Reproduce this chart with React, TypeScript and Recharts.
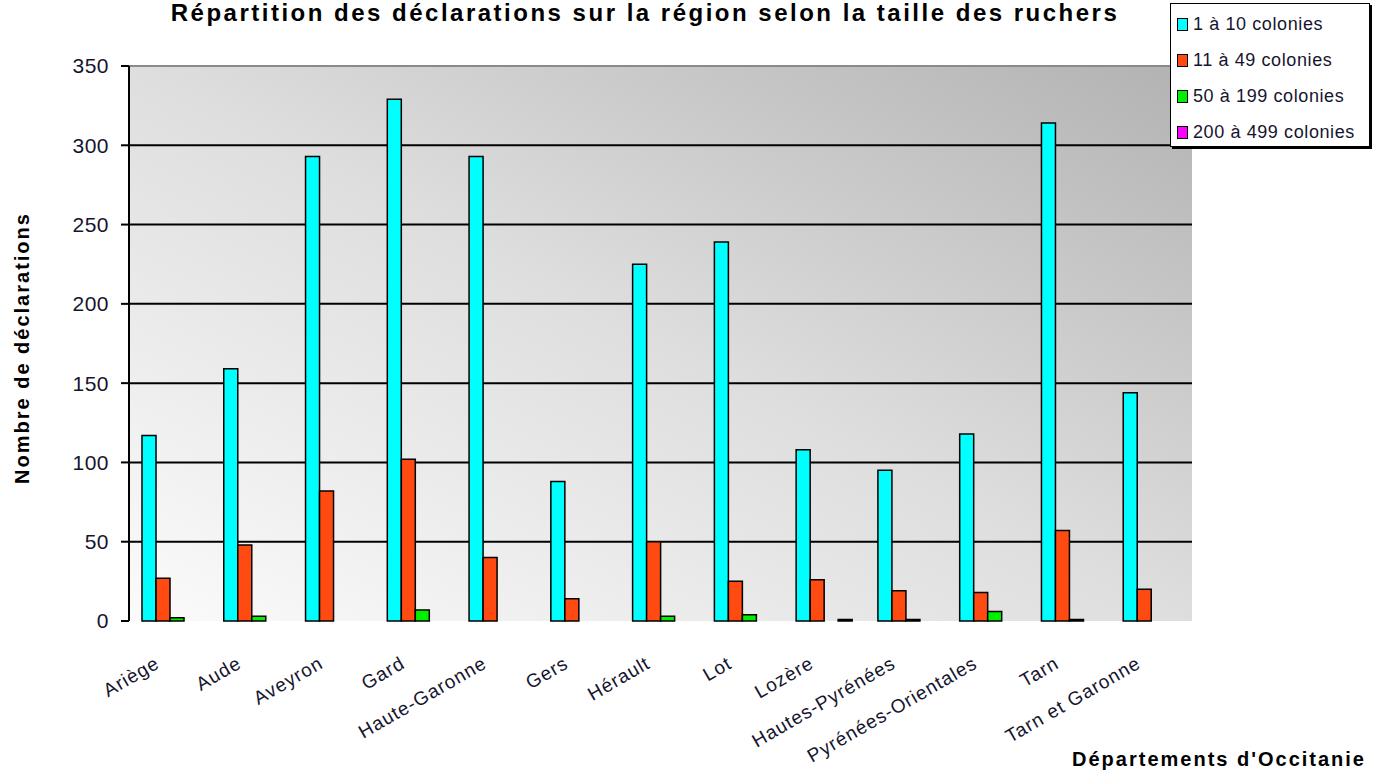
import React from "react";
import {
  BarChart,
  Bar,
  XAxis,
  YAxis,
  CartesianGrid,
  Legend,
  ReferenceLine,
} from "recharts";

const departements = [
  "Ariège",
  "Aude",
  "Aveyron",
  "Gard",
  "Haute-Garonne",
  "Gers",
  "Hérault",
  "Lot",
  "Lozère",
  "Hautes-Pyrénées",
  "Pyrénées-Orientales",
  "Tarn",
  "Tarn et Garonne",
];

const colonies1a10 = [117, 159, 293, 329, 293, 88, 225, 239, 108, 95, 118, 314, 144];
const colonies11a49 = [27, 48, 82, 102, 40, 14, 50, 25, 26, 19, 18, 57, 20];
const colonies50a199 = [2, 3, 0, 7, 0, 0, 3, 4, 0, 1, 6, 1, 0];
const colonies200a499 = [0, 0, 0, 0, 0, 0, 0, 0, 1, 0, 0, 0, 0];

const yTicks = [0, 50, 100, 150, 200, 250, 300, 350];
const gridValues = [50, 100, 150, 200, 250, 300];
const edgeTicks = departements.map((_, i) => i).concat(departements.length);

const series = [
  { key: "c1", name: "1 à 10 colonies", color: "#00FFFF" },
  { key: "c2", name: "11 à 49 colonies", color: "#FF4A12" },
  { key: "c3", name: "50 à 199 colonies", color: "#00F000" },
  { key: "c4", name: "200 à 499 colonies", color: "#FF00FF" },
];

const data = departements.map((name, i) => ({
  name,
  c1: colonies1a10[i],
  c2: colonies11a49[i],
  c3: colonies50a199[i],
  c4: colonies200a499[i],
}));

const FONT = "'Liberation Sans', Arial, sans-serif";
const TEXT = "#15152e";

function DeptTick(props: any) {
  const { x, y, payload } = props;
  return (
    <g transform={`translate(${x - 9},${y + 38}) rotate(-30)`}>
      <text
        textAnchor="end"
        fontSize={19}
        letterSpacing={1}
        fontFamily={FONT}
        fill={TEXT}
      >
        {payload.value}
      </text>
    </g>
  );
}

function LegendBox() {
  return (
    <div
      style={{
        width: 200,
        height: 144,
        boxSizing: "border-box",
        background: "#fff",
        border: "1.5px solid #000",
        boxShadow: "2px 2px 0 #000",
        padding: "2px 0 0 6px",
        fontFamily: FONT,
        fontSize: 18,
        letterSpacing: 0.6,
        color: TEXT,
      }}
    >
      {series.map((s) => (
        <div
          key={s.key}
          style={{ display: "flex", alignItems: "center", height: 36 }}
        >
          <span
            style={{
              display: "inline-block",
              width: 9,
              height: 11,
              background: s.color,
              border: "1.5px solid #000",
              marginRight: 5,
            }}
          />
          {s.name}
        </div>
      ))}
    </div>
  );
}

export default function App() {
  return (
    <div
      style={{
        position: "absolute",
        left: 0,
        top: 0,
        width: 1378,
        height: 773,
        background: "#fff",
        overflow: "hidden",
        fontFamily: FONT,
      }}
    >
      <BarChart
        width={1378}
        height={773}
        data={data}
        margin={{ top: 66, right: 186, left: 0, bottom: 22 }}
        barCategoryGap={13}
        barGap={0}
      >
        <defs>
          <linearGradient id="plotBg" x1="0" y1="1" x2="1" y2="0">
            <stop offset="0%" stopColor="#fbfbfb" />
            <stop offset="50%" stopColor="#dedede" />
            <stop offset="100%" stopColor="#b2b2b2" />
          </linearGradient>
        </defs>
        <CartesianGrid
          vertical={false}
          horizontalValues={gridValues}
          stroke="#000"
          strokeWidth={2}
          fill="url(#plotBg)"
          fillOpacity={1}
        />
        <XAxis
          xAxisId="edges"
          type="number"
          domain={[0, departements.length]}
          ticks={edgeTicks}
          tick={false}
          height={0}
          tickSize={8}
          axisLine={{ stroke: "#000", strokeWidth: 2 }}
          tickLine={{ stroke: "#000", strokeWidth: 2 }}
          allowDataOverflow
        />
        <XAxis
          dataKey="name"
          height={130}
          interval={0}
          axisLine={false}
          tickLine={false}
          tick={<DeptTick />}
        />
        <YAxis
          width={129}
          domain={[0, 350]}
          ticks={yTicks}
          interval={0}
          tickSize={8}
          tickMargin={12}
          axisLine={{ stroke: "#000", strokeWidth: 2 }}
          tickLine={{ stroke: "#000", strokeWidth: 2 }}
          tick={{ fontSize: 21, fontFamily: FONT, fill: TEXT, letterSpacing: 0.5 }}
        />
        <ReferenceLine y={350} stroke="#8a8a8a" strokeWidth={2} />
        <ReferenceLine
          xAxisId="edges"
          x={departements.length}
          stroke="#8a8a8a"
          strokeWidth={2}
        />
        <Legend
          layout="horizontal"
          verticalAlign="middle"
          align="center"
          wrapperStyle={{ left: 1170, top: 3, width: 202 }}
          content={() => <LegendBox />}
        />
        {series.map((s) => (
          <Bar
            key={s.key}
            dataKey={s.key}
            name={s.name}
            fill={s.color}
            stroke="#000"
            strokeWidth={1.5}
            isAnimationActive={false}
          />
        ))}
      </BarChart>
      <div
        style={{
          position: "absolute",
          left: 0,
          width: 1290,
          top: 0,
          textAlign: "center",
          fontWeight: "bold",
          fontSize: 24,
          letterSpacing: 2.5,
          lineHeight: "26px",
          color: "#000",
          whiteSpace: "nowrap",
        }}
      >
        Répartition des déclarations sur la région selon la taille des ruchers
      </div>
      <div
        style={{
          position: "absolute",
          left: 22,
          top: 348,
          transform: "translate(-50%, -50%) rotate(-90deg)",
          whiteSpace: "nowrap",
          fontWeight: "bold",
          fontSize: 20,
          letterSpacing: 2,
          color: "#000",
        }}
      >
        Nombre de déclarations
      </div>
      <div
        style={{
          position: "absolute",
          right: 12,
          top: 748,
          whiteSpace: "nowrap",
          fontWeight: "bold",
          fontSize: 20,
          letterSpacing: 2,
          color: "#000",
        }}
      >
        Départements d'Occitanie
      </div>
    </div>
  );
}
